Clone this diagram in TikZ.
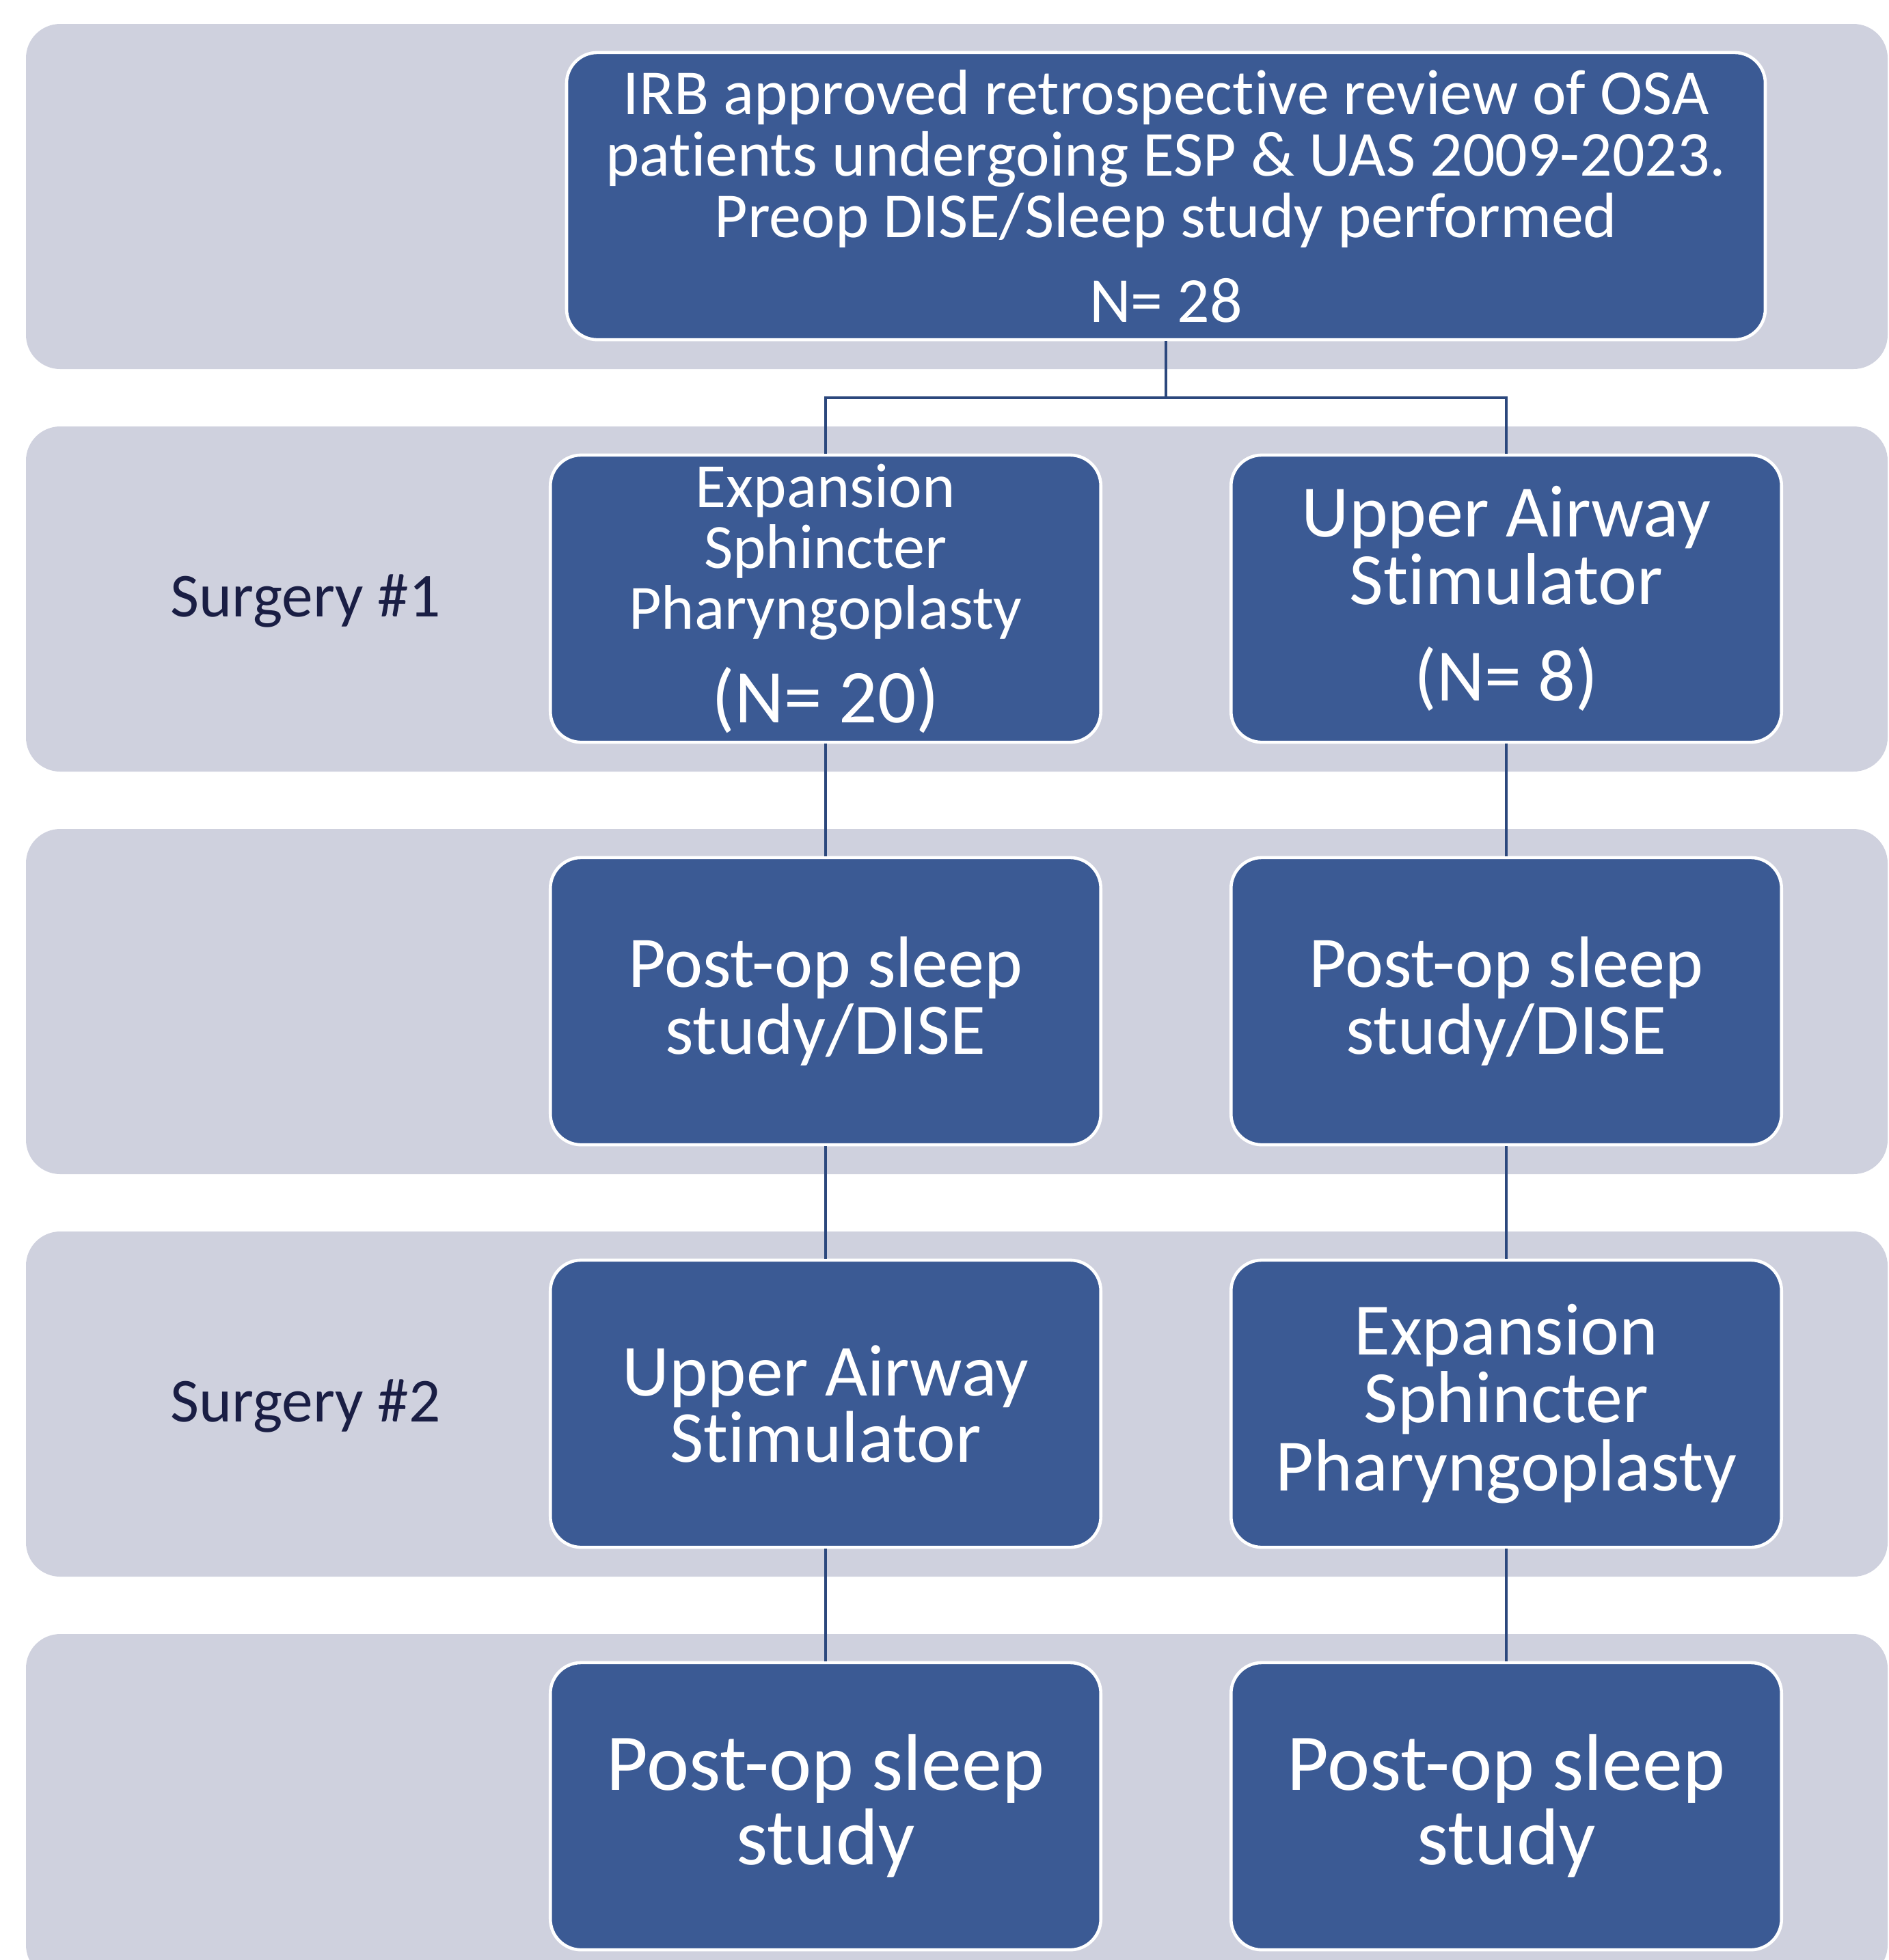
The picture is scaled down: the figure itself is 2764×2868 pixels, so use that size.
\documentclass[tikz,border=0pt]{standalone}
\usepackage{fontspec}
\setmainfont{Carlito}[Ligatures=NoCommon]
\lineskiplimit=-100pt
\definecolor{band}{RGB}{207,209,222}
\definecolor{boxblue}{RGB}{59,90,148}
\definecolor{linkblue}{RGB}{44,72,125}
\definecolor{labelnavy}{RGB}{26,30,68}
\tikzset{
  stepbox/.style={draw=white, line width=1.3pt, fill=boxblue, rounded corners=0.45cm,
    text=white, align=center, minimum width=8.05cm, minimum height=4.2cm, inner sep=0pt},
  link/.style={draw=linkblue, line width=1.4pt},
  fs/.style 2 args={font=\fontsize{#1}{#2}\selectfont},
  rowlabel/.style={text=labelnavy, anchor=base, inner sep=0pt, fs={26}{26}}
}
\begin{document}
\begin{tikzpicture}[x=0.01cm,y=-0.01cm]
\useasboundingbox (0,0) rectangle (2764,2868);
% grey bands
\foreach \i in {0,...,4} \fill[band, rounded corners=0.5cm] (38,35+589*\i) rectangle (2762,540+589*\i);
% boxes
\node[stepbox, minimum width=17.53cm, fs={26.7}{25.6}] (irb) at (1706,287)
  {IRB approved retrospective review of OSA\\patients undergoing ESP \& UAS 2009-2023.\\Preop DISE/Sleep study performed\\[9.7pt]N= 28};
\node[stepbox, fs={26.2}{25.3}] (esp1) at (1208,876)
  {Expansion\\Sphincter\\Pharyngoplasty\\[13.7pt]{\fontsize{31.6}{30}\selectfont(N= 20)}};
\node[stepbox, fs={30.7}{28.2}] (uas1) at (2204,876) {Upper Airway\\Stimulator\\[12pt](N= 8)};
\node[stepbox, fs={30.2}{27.9}] (post1l) at (1208,1465) {Post-op sleep\\study/DISE};
\node[stepbox, fs={30.2}{27.9}] (post1r) at (2204,1465) {Post-op sleep\\study/DISE};
\node[stepbox, fs={30.5}{27.6}] (uas2) at (1208,2054) {Upper Airway\\Stimulator};
\node[stepbox, fs={30.7}{28.2}] (esp2) at (2204,2054) {Expansion\\Sphincter\\Pharyngoplasty};
\node[stepbox, fs={33.5}{31}] (post2l) at (1208,2643) {Post-op sleep\\study};
\node[stepbox, fs={33.5}{31}] (post2r) at (2204,2643) {Post-op sleep\\study};
% row labels
\node[rowlabel] (surg1) at (447,902) {Surgery \#1};
\node[rowlabel] (surg2) at (447,2080) {Surgery \#2};
% connectors
\coordinate (split) at (1706,582);
\draw[link] (irb.south) -- (split);
\draw[link] (split) -| (esp1.north);
\draw[link] (split) -| (uas1.north);
\foreach \a/\b in {esp1/post1l, post1l/uas2, uas2/post2l, uas1/post1r, post1r/esp2, esp2/post2r}
  \draw[link] (\a.south) -- (\b.north);
\end{tikzpicture}
\end{document}
